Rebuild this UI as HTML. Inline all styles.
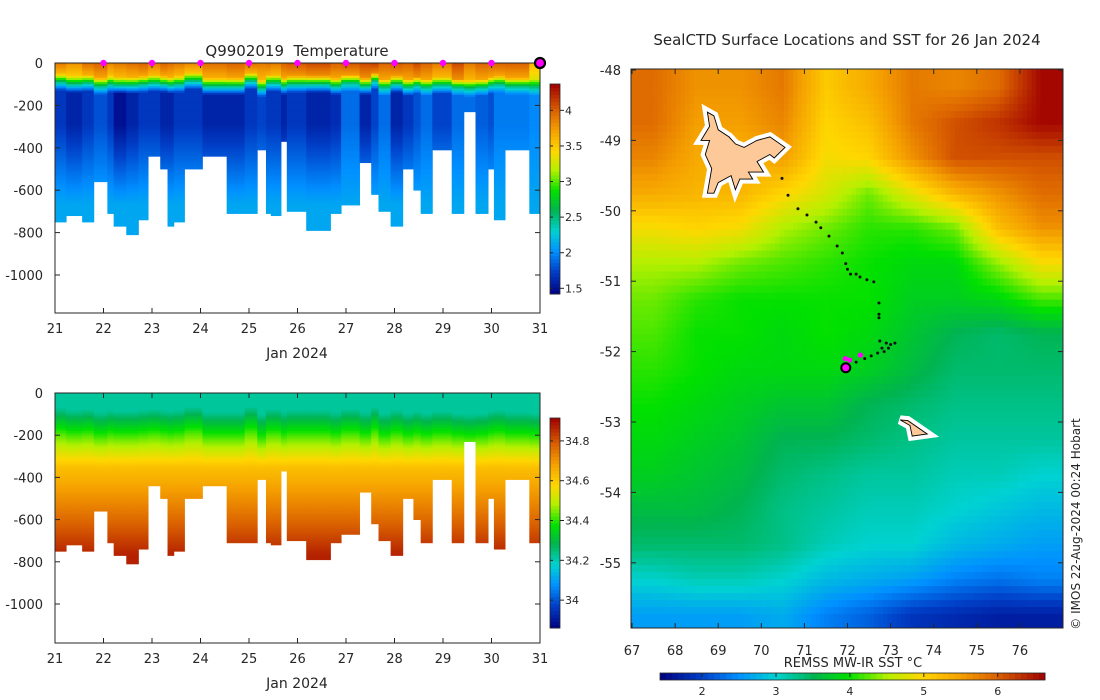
<!DOCTYPE html>
<html><head><meta charset="utf-8">
<style>
body{margin:0;background:#fff;width:1100px;height:700px;overflow:hidden;font-family:"Liberation Sans","DejaVu Sans",sans-serif}
svg{position:absolute;left:0;top:0}
text{fill:#262626;font-family:"DejaVu Sans","Liberation Sans",sans-serif}
</style></head><body>
<svg id="s" width="1100" height="700" viewBox="0 0 1100 700"></svg>
<script>
// ---------- DATA ----------
const profileStartDays=[0,.23,.56,.80,1.08,1.21,1.47,1.72,1.92,2.17,2.32,2.45,2.67,3.04,3.54,3.91,4.17,4.35,4.45,4.66,4.78,5.18,5.68,5.90,6.28,6.52,6.67,6.92,7.17,7.39,7.54,7.78,8.18,8.43,8.67,8.93,9.05,9.28,9.78];
const profileEndDay=10.02;
const profileMaxDepth=[748,717,744,560,701,764,807,731,434,500,767,741,500,437,706,701,401,701,717,368,698,781,710,665,462,618,692,764,500,594,701,401,701,226,701,500,736,401,701];
const surfaceTemp=[3.9,3.8,3.95,4.0,3.85,3.9,3.95,4.0,3.9,4.0,3.95,3.9,3.85,3.95,4.0,3.95,3.9,3.95,3.9,4.0,4.05,4.1,4.0,4.05,4.1,4.15,4.0,4.05,4.0,4.1,4.0,3.9,4.1,3.9,4.0,4.0,4.0,4.0,3.6];
const mixedDepth=[50,60,55,70,60,65,65,60,55,60,65,60,45,70,70,45,80,55,55,70,60,60,70,55,70,45,75,60,75,65,75,65,75,80,75,65,60,70,75];
const minTemp=[1.7,1.6,1.7,1.8,1.7,1.5,1.6,1.7,1.7,1.6,1.6,1.7,1.7,1.6,1.6,1.7,1.75,1.7,1.7,1.6,1.7,1.6,1.65,1.9,1.6,1.75,1.9,1.6,1.7,1.8,1.9,1.75,1.9,1.9,1.85,1.8,1.95,1.95,2.0];
const eventDays=[22,23,24,25,26,27,28,29,30];
const currentDay=31;
const xTickDays=[21,22,23,24,25,26,27,28,29,30,31];
const depthTicks=[0,-200,-400,-600,-800,-1000];
const tempTicks=[4,3.5,3,2.5,2,1.5];
const salTicks=[34.8,34.6,34.4,34.2,34];
const sstLats=[-48.25,-48.75,-49.25,-49.75,-50.25,-50.75,-51.25,-51.75,-52.25,-52.75,-53.25,-53.75,-54.25,-54.75,-55.25,-55.75];
const sstLons=[67.5,68.5,69.5,70.5,71.5,72.5,73.5,74.5,75.5,76.5];
const sstGrid=[
[5.9,5.6,5.6,5.8,5.1,5.4,5.8,5.7,5.9,6.6],
[5.9,5.5,5.5,5.7,5.0,5.2,5.8,6.1,6.3,6.6],
[5.7,5.4,5.3,5.5,4.9,5.0,5.6,6.1,6.1,6.1],
[5.4,5.3,5.3,5.0,4.7,4.3,4.8,5.3,5.6,5.9],
[4.9,5.0,4.9,4.5,4.3,4.1,4.1,4.3,5.2,5.6],
[4.5,4.5,4.3,4.2,4.1,4.0,3.9,3.9,4.4,4.9],
[4.3,4.1,4.0,4.0,4.0,4.0,3.8,3.8,3.9,4.2],
[4.2,4.0,4.0,3.9,4.0,3.9,3.7,3.5,3.4,3.5],
[4.1,4.0,3.9,3.9,3.9,3.8,3.6,3.4,3.4,3.4],
[4.0,3.9,3.8,3.7,3.7,3.5,3.4,3.3,3.3,3.3],
[3.9,3.8,3.7,3.5,3.5,3.4,3.3,3.2,3.2,3.2],
[3.8,3.7,3.6,3.4,3.3,3.2,3.2,3.1,3.1,3.0],
[3.6,3.6,3.5,3.3,3.2,3.1,3.1,3.0,2.9,2.8],
[3.4,3.4,3.4,3.3,3.1,3.0,3.0,2.8,2.7,2.6],
[3.0,3.1,3.1,3.0,2.8,2.7,2.6,2.4,2.3,2.4],
[2.6,2.6,2.6,2.7,2.4,2.2,1.9,1.8,1.7,1.7]];
const trackLon=[70.48,70.62,70.85,71.06,71.27,71.38,71.57,71.76,71.88,71.96,72.0,72.07,72.2,72.29,72.45,72.61,72.73,72.73,72.73,72.75,72.8,72.9,73.0,73.1,72.95,72.85,72.7,72.55,72.4,72.2,72.05];
const trackLat=[-49.54,-49.78,-49.97,-50.06,-50.16,-50.24,-50.36,-50.5,-50.6,-50.75,-50.83,-50.9,-50.9,-50.94,-50.98,-51.01,-51.31,-51.47,-51.52,-51.85,-51.95,-51.88,-51.9,-51.88,-51.95,-52.0,-52.02,-52.06,-52.1,-52.15,-52.22];
const recentLon=[71.95,72.05,72.3];
const recentLat=[-52.1,-52.12,-52.05];
const latestLon=71.96, latestLat=-52.23;
const mapLonTicks=[67,68,69,70,71,72,73,74,75,76];
const mapLatTicks=[-48,-49,-50,-51,-52,-53,-54,-55];
const sstTicks=[2,3,4,5,6];
const kergLon=[68.75,68.9,69.0,69.25,69.4,69.6,69.9,70.2,70.55,70.3,70.2,69.9,70.05,69.7,69.8,69.5,69.4,69.3,69.0,68.9,68.75,68.85,68.7,68.8,68.6,68.8];
const kergLat=[-48.6,-48.65,-48.85,-48.95,-49.05,-49.1,-49.0,-48.95,-49.1,-49.25,-49.2,-49.3,-49.45,-49.45,-49.55,-49.55,-49.7,-49.5,-49.6,-49.75,-49.75,-49.4,-49.2,-49.0,-49.0,-48.8];
const heardLon=[73.22,73.4,73.85,73.5,73.45];
const heardLat=[-52.97,-52.98,-53.17,-53.2,-53.05];

// ---------- helpers ----------
const NS='http://www.w3.org/2000/svg';
const svgRoot=document.getElementById('s');
function el(tag,attrs,parent){const e=document.createElementNS(NS,tag);for(const k in attrs)e.setAttribute(k,attrs[k]);(parent||svgRoot).appendChild(e);return e;}
const stops=[[0,[0,0,128]],[0.11,[0,64,200]],[0.205,[0,144,255]],[0.30,[0,210,210]],[0.40,[0,180,80]],[0.49,[0,224,0]],[0.59,[180,240,0]],[0.68,[255,215,0]],[0.78,[245,160,0]],[0.87,[220,100,0]],[1,[160,0,0]]];
function cmap(f){f=Math.max(0,Math.min(1,f));for(let i=1;i<stops.length;i++){if(f<=stops[i][0]){const a=stops[i-1],b=stops[i];const t=(f-a[0])/(b[0]-a[0]);const c=a[1].map((v,j)=>Math.round(v+(b[1][j]-v)*t));return 'rgb('+c.join(',')+')';}}return 'rgb(160,0,0)';}
function lerp(a,b,t){return a+(b-a)*Math.max(0,Math.min(1,t));}

function tempAt(z,i){const m=mixedDepth[i],s=surfaceTemp[i],tm=minTemp[i];
 if(z<m) return s-0.3*z/m;
 if(z<m+40) return lerp(s-0.3,2.5,(z-m)/40);
 if(z<m+80) return lerp(2.5,tm,(z-m-40)/40);
 if(z<290) return tm;
 return lerp(tm,2.12,(z-290)/380);}
function salAt(z,i){const m=mixedDepth[i];
 if(z<m+20) return 34.22;
 if(z<m+150) return lerp(34.22,34.43,(z-m-20)/130);
 if(z<350) return lerp(34.43,34.62,(z-m-150)/(350-m-150));
 return lerp(34.62,34.87,(z-350)/420);}

function section(cfg){
 const g=el('g',{});
 const L=55,R=540,T=cfg.top,B=cfg.bottom,py=cfg.pxPerM;
 const X=d=>L+(d-21)*(R-L)/10.0;const Y=z=>T+z*py;
 for(let i=0;i<profileStartDays.length;i++){
  const d0=21+profileStartDays[i],d1=21+(i+1<profileStartDays.length?profileStartDays[i+1]:profileEndDay);
  const x0=X(d0),x1=Math.min(R,X(d1));
  for(let z=0;z<profileMaxDepth[i];z+=10){
   const v=cfg.fn(z+5,i);
   const r=el('rect',{x:x0.toFixed(2),y:Y(z).toFixed(2),width:(x1-x0+0.4).toFixed(2),height:(10*py+0.4).toFixed(2),fill:cmap((v-cfg.vmin)/(cfg.vmax-cfg.vmin))},g);
   
   
  }
 }
 el('rect',{x:L,y:T,width:R-L,height:B-T,fill:'none',stroke:'#262626','stroke-width':1},g);
 for(const d of xTickDays){el('line',{x1:X(d),x2:X(d),y1:B,y2:B-5,stroke:'#262626'},g);el('line',{x1:X(d),x2:X(d),y1:T,y2:T+5,stroke:'#262626'},g);
  const t=el('text',{x:X(d),y:B+20,'font-size':13,'text-anchor':'middle'},g);t.textContent=d;
  
  }
 for(const z of depthTicks){const y=Y(-z);el('line',{x1:L,x2:L+5,y1:y,y2:y,stroke:'#262626'},g);el('line',{x1:R,x2:R-5,y1:y,y2:y,stroke:'#262626'},g);
  const t=el('text',{x:L-12,y:y+5,'font-size':13,'text-anchor':'end'},g);t.textContent=z;
  
  }
 const xl=el('text',{x:297,y:B+45,'font-size':14,'text-anchor':'middle'},g);xl.textContent='Jan 2024';
 
 
 const cb=el('g',{},g);
 
 
 const cT=cfg.cbTop,cB=cfg.cbTop+210,n=60;
 for(let k=0;k<n;k++){el('rect',{x:550,y:cB-(k+1)*210/n,width:10,height:210/n+0.5,fill:cmap((k+0.5)/n)},cb);}
 el('rect',{x:550,y:cT,width:10,height:210,fill:'none',stroke:'#262626','stroke-width':0.8},cb);
 for(const v of cfg.ticks){const y=cB-(v-cfg.vmin)/(cfg.vmax-cfg.vmin)*210;el('line',{x1:560,x2:564,y1:y,y2:y,stroke:'#262626'},cb);el('line',{x1:550,x2:553,y1:y,y2:y,stroke:'#262626'},cb);
  const t=el('text',{x:565,y:y+4,'font-size':11},cb);t.textContent=v;
  
  }
 return {X,Y,g};
}
const tempPlot=section({name:'temperature-section',top:63,bottom:313,pxPerM:0.212,fn:tempAt,vmin:1.42,vmax:4.37,cbTop:84,ticks:tempTicks});
section({name:'salinity-section',top:393,bottom:643,pxPerM:0.211,fn:salAt,vmin:33.86,vmax:34.915,cbTop:418,ticks:salTicks});
const tt=el('text',{x:297,y:56,'font-size':15,'text-anchor':'middle',style:'white-space:pre'});tt.textContent='Q9902019  Temperature';


for(const d of eventDays){const c=el('circle',{cx:tempPlot.X(d),cy:63,r:3.2,fill:'#ff00ff'});
 
 }
{const c=el('circle',{cx:tempPlot.X(currentDay),cy:63,r:5,fill:'#ff00ff',stroke:'#000','stroke-width':2.2});
 
 }

// ---------- map ----------
const mg=el('g',{});


const ML=631,MR=1063,MT=69,MB=628;
const MX=lon=>632+(lon-67)*43.1, MY=lat=>70+(-48-lat)*70.4;
function sstAt(lon,lat){
 let fi=(lat-sstLats[0])/(sstLats[1]-sstLats[0]);let fj=(lon-sstLons[0]);
 fi=Math.max(0,Math.min(sstLats.length-1.001,fi));fj=Math.max(0,Math.min(sstLons.length-1.001,fj));
 const i=Math.floor(fi),j=Math.floor(fj),a=fi-i,b=fj-j;
 return sstGrid[i][j]*(1-a)*(1-b)+sstGrid[i+1][j]*a*(1-b)+sstGrid[i][j+1]*(1-a)*b+sstGrid[i+1][j+1]*a*b;}
const cw=432/96,ch=559/80;
for(let r=0;r<80;r++)for(let c=0;c<96;c++){
 const x=ML+c*cw,y=MT+r*ch;const lon=67+(x+cw/2-632)/43.1,lat=-48-(y+ch/2-70)/70.4;
 const v=sstAt(lon,lat);
 const rc=el('rect',{x:x.toFixed(2),y:y.toFixed(2),width:(cw+0.4).toFixed(2),height:(ch+0.4).toFixed(2),fill:cmap((v-1.43)/(6.64-1.43))},mg);
 
 
}
function poly(lons,lats,name){const pts=lons.map((l,i)=>MX(l).toFixed(1)+','+MY(lats[i]).toFixed(1)).join(' ');
 el('polygon',{points:pts,fill:'#fff',stroke:'#fff','stroke-width':9,'stroke-linejoin':'miter'},mg);
 const p=el('polygon',{points:pts,fill:'#fdc998',stroke:'#000','stroke-width':0.9},mg);
 
 }
poly(kergLon,kergLat,'kerguelen-island');poly(heardLon,heardLat,'heard-island');
for(let i=0;i<trackLon.length;i++){const c=el('circle',{cx:MX(trackLon[i]),cy:MY(trackLat[i]),r:1.5,fill:'#111'},mg);
 
 }
for(let i=0;i<recentLon.length;i++){const c=el('circle',{cx:MX(recentLon[i]),cy:MY(recentLat[i]),r:2.6,fill:'#ff00ff'},mg);
 
 }
{const c=el('circle',{cx:MX(latestLon),cy:MY(latestLat),r:4.5,fill:'#ff00ff',stroke:'#000','stroke-width':2},mg);
 
 }
el('rect',{x:ML,y:MT,width:MR-ML,height:MB-MT,fill:'none',stroke:'#262626','stroke-width':1},mg);
for(const l of mapLonTicks){const x=MX(l);el('line',{x1:x,x2:x,y1:MB,y2:MB-5,stroke:'#262626'},mg);el('line',{x1:x,x2:x,y1:MT,y2:MT+5,stroke:'#262626'},mg);
 const t=el('text',{x:x,y:655,'font-size':13,'text-anchor':'middle'},mg);t.textContent=l;
 
 }
for(const l of mapLatTicks){const y=MY(l);el('line',{x1:ML,x2:ML+5,y1:y,y2:y,stroke:'#262626'},mg);el('line',{x1:MR,x2:MR-5,y1:y,y2:y,stroke:'#262626'},mg);
 const t=el('text',{x:621,y:y+5,'font-size':13,'text-anchor':'end'},mg);t.textContent=l;
 
 }
const mt=el('text',{x:847,y:45,'font-size':15,'text-anchor':'middle'});mt.textContent='SealCTD Surface Locations and SST for 26 Jan 2024';


const hb=el('g',{});


for(let k=0;k<64;k++){el('rect',{x:660+k*385/64,y:673,width:385/64+0.5,height:7,fill:cmap((k+0.5)/64)},hb);}
el('rect',{x:660,y:673,width:385,height:7,fill:'none',stroke:'#262626','stroke-width':0.8},hb);
for(const v of sstTicks){const x=660+(v-1.43)/(6.64-1.43)*385;el('line',{x1:x,x2:x,y1:673,y2:677,stroke:'#262626'},hb);
 const t=el('text',{x:x,y:695,'font-size':11,'text-anchor':'middle'},hb);t.textContent=v;
 
 }
const hl=el('text',{x:853,y:667,'font-size':13,'text-anchor':'middle'});hl.textContent='REMSS MW-IR SST °C';


const cp=el('text',{x:0,y:0,'font-size':12,'text-anchor':'middle',transform:'translate(1080,524) rotate(-90)'});cp.textContent='© IMOS 22-Aug-2024 00:24 Hobart';


</script>
</body></html>
